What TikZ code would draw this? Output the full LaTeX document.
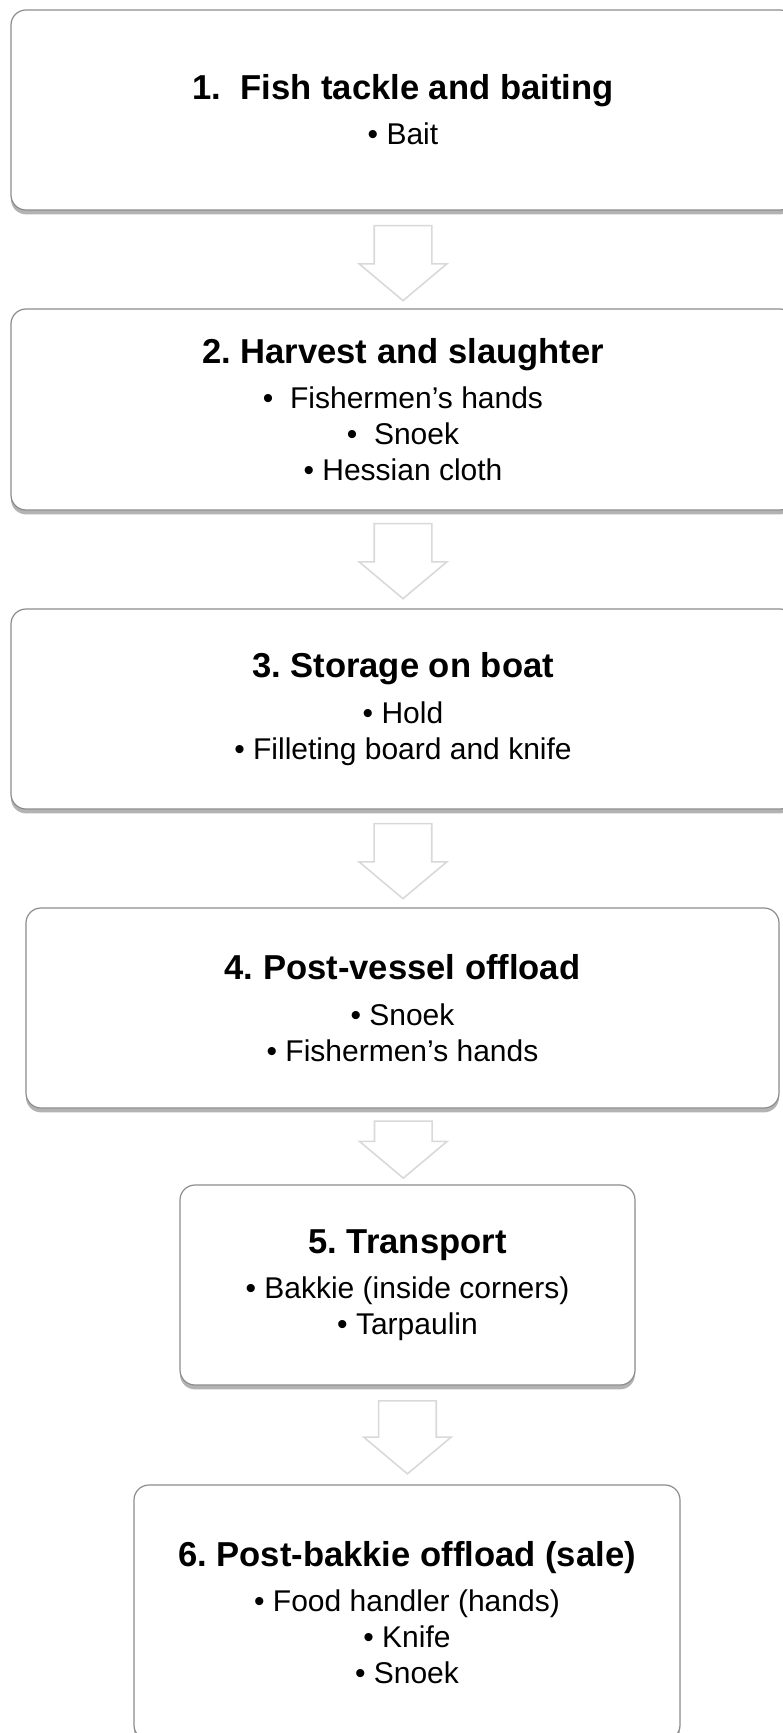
\documentclass[tikz,border=0pt]{standalone}
\usepackage{fontspec}
\setmainfont{Liberation Sans}
\usetikzlibrary{shapes.arrows,shadows,calc}
\frenchspacing

\newcommand{\stagehead}[1]{{\fontsize{17.3}{20}\bfseries\selectfont #1}\\[4.6pt]}

\begin{document}
\begin{tikzpicture}[x=0.5pt,y=-0.5pt,
  stage/.style={draw=black!45, line width=0.6pt, fill=white, rounded corners=7.5pt,
    inner sep=0pt, outer sep=0pt, align=center, anchor=north west,
    font=\fontsize{15}{18}\selectfont,
    drop shadow={shadow xshift=0pt, shadow yshift=-2.2pt, opacity=0.6}},
  downarrow/.style={single arrow, rotate=-90, anchor=tail, draw=black!15, line width=0.8pt,
    fill=white, minimum width=43pt, single arrow head extend=7.5pt,
    single arrow tip angle=100, inner xsep=0pt, inner ysep=14pt, minimum height=#1}]

\useasboundingbox (0,0) rectangle (782,1733);

\node[stage, minimum width=392pt, minimum height=100pt] (s1) at (11,10)
  {\stagehead{1.\ \ Fish tackle and baiting}\textbullet\ Bait};
\node[stage, minimum width=392pt, minimum height=100.5pt] (s2) at (11,309)
  {\stagehead{2. Harvest and slaughter}\textbullet\ \ Fishermen's hands\\
   \textbullet\ \ Snoek\\ \textbullet\ Hessian cloth};
\node[stage, minimum width=392pt, minimum height=100pt] (s3) at (11,609)
  {\stagehead{3. Storage on boat}\textbullet\ Hold\\ \textbullet\ Filleting board and knife};
\node[stage, minimum width=376.5pt, minimum height=100pt] (s4) at (26,908)
  {\stagehead{4. Post-vessel offload}\textbullet\ Snoek\\ \textbullet\ Fishermen's hands};
\node[stage, minimum width=227.5pt, minimum height=100pt] (s5) at (180,1185)
  {\stagehead{5. Transport}\textbullet\ Bakkie (inside corners)\\ \textbullet\ Tarpaulin};
\node[stage, minimum width=273pt, minimum height=127.5pt] (s6) at (134,1485)
  {\stagehead{6. Post-bakkie offload (sale)}\textbullet\ Food handler (hands)\\
   \textbullet\ Knife\\ \textbullet\ Snoek};

\node[downarrow=37.5pt] (a1) at ($(s1.south)!0.15!(s2.north)$) {};
\node[downarrow=37.5pt] (a2) at ($(s2.south)!0.13!(s3.north)$) {};
\node[downarrow=37.5pt] (a3) at ($(s3.south)!0.14!(s4.north)$) {};
\node[downarrow=28.5pt] (a4) at ($(s4.south)!0.16!(s5.north)$) {};
\node[downarrow=36.5pt] (a5) at ($(s5.south)!0.15!(s6.north)$) {};
\end{tikzpicture}
\end{document}
